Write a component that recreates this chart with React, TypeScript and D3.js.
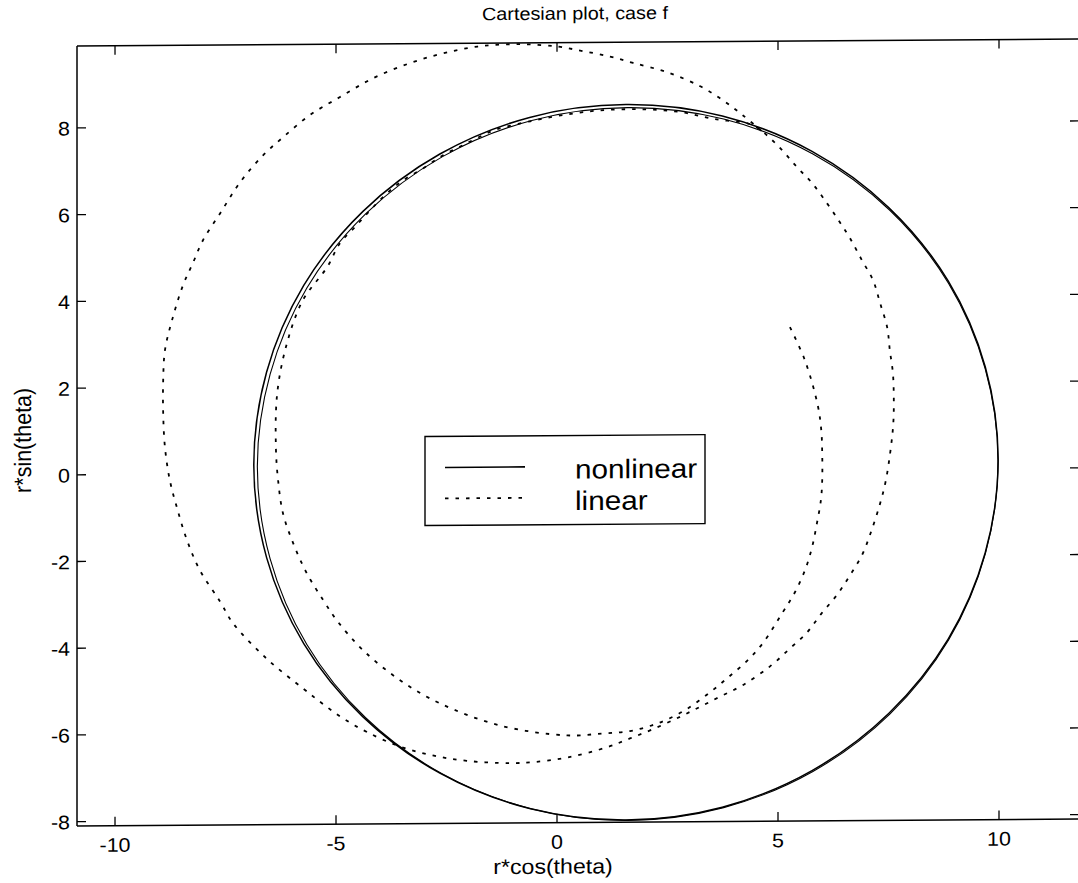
import React from 'react';
import * as d3 from 'd3';

const W = 1078;
const H = 883;

const titleText = 'Cartesian plot, case f';
const xLabel = 'r*cos(theta)';
const yLabel = 'r*sin(theta)';

const xTicks = [-10, -5, 0, 5, 10];
const yTicks = [-8, -6, -4, -2, 0, 2, 4, 6, 8];
const xLimits: [number, number] = [-10.86, 11.81];
const yLimits: [number, number] = [-8.1, 9.89];

// Nonlinear orbit, first revolution (r*cos, r*sin), counter-clockwise from the right end
const nonlinearPass1: [number, number][] = [
  [9.98, 0.2], [9.69, 2.34], [8.85, 4.33], [7.51, 6.03], [5.77, 7.34], [3.74, 8.17],
  [1.56, 8.45], [-0.62, 8.17], [-2.65, 7.34], [-4.39, 6.03], [-5.73, 4.33], [-6.57, 2.34],
  [-6.86, 0.2], [-6.57, -1.94], [-5.73, -3.93], [-4.39, -5.63], [-2.65, -6.94], [-0.62, -7.77],
  [1.56, -8.05], [3.74, -7.77], [5.77, -6.94], [7.51, -5.63], [8.85, -3.93], [9.69, -1.94],
];

// Nonlinear orbit, second revolution (slightly precessed)
const nonlinearPass2: [number, number][] = [
  [9.98, 0.16], [9.69, 2.29], [8.86, 4.27], [7.53, 5.97], [5.79, 7.28], [3.77, 8.1],
  [1.6, 8.38], [-0.57, 8.1], [-2.59, 7.28], [-4.33, 5.97], [-5.66, 4.27], [-6.49, 2.29],
  [-6.78, 0.16], [-6.49, -1.97], [-5.66, -3.95], [-4.33, -5.65], [-2.59, -6.96], [-0.57, -7.78],
  [1.6, -8.06], [3.77, -7.78], [5.79, -6.96], [7.53, -5.65], [8.86, -3.95], [9.69, -1.97],
];

// Linearised solution: inner turn, then the wider outer turn
const linearPath: [number, number][] = [
  [5.27, 3.29], [5.61, 2.52], [5.9, 1.48], [5.98, 0.9], [6.0, 0.37], [6.0, -0.25],
  [5.97, -0.71], [5.88, -1.24], [5.77, -1.79], [5.61, -2.32], [5.38, -2.83], [5.11, -3.28],
  [4.66, -3.99], [4.3, -4.4], [3.87, -4.78], [3.46, -5.12], [2.94, -5.5], [2.49, -5.74],
  [2.15, -5.87], [1.65, -6.0], [1.04, -6.05], [0.23, -6.09], [-1.29, -5.85], [-2.65, -5.33],
  [-3.55, -4.79], [-4.39, -4.09], [-4.98, -3.4], [-5.29, -2.93], [-5.66, -2.31], [-5.97, -1.61],
  [-6.2, -0.92], [-6.31, -0.16], [-6.36, 0.6], [-6.33, 1.85], [-6.11, 3.0], [-5.75, 3.99],
  [-5.2, 4.75], [-4.91, 5.3], [-4.57, 5.67], [-4.23, 6.05], [-3.85, 6.44], [-3.48, 6.74],
  [-3.03, 7.01], [-2.58, 7.31], [-2.13, 7.54], [-1.67, 7.77], [-1.36, 7.9], [-0.61, 8.08],
  [0.14, 8.22], [0.97, 8.32], [1.88, 8.34], [2.78, 8.27], [3.57, 8.1], [4.37, 7.98],
  [4.63, 7.82], [5.05, 7.42], [5.43, 6.98], [5.77, 6.61], [6.11, 6.14], [6.4, 5.7],
  [6.63, 5.33], [6.9, 4.82], [7.15, 4.36], [7.31, 3.83], [7.47, 3.27], [7.53, 2.74],
  [7.6, 2.21], [7.62, 1.59], [7.61, 1.08], [7.56, 0.55], [7.44, -0.26], [7.31, -0.79],
  [7.1, -1.46], [6.9, -1.98], [6.63, -2.44], [6.33, -2.9], [5.99, -3.31], [5.66, -3.75],
  [5.27, -4.12], [4.82, -4.53], [4.2, -4.96], [3.69, -5.22], [3.24, -5.45], [2.78, -5.68],
  [2.17, -5.96], [1.65, -6.17], [1.13, -6.37], [0.23, -6.6], [-0.54, -6.7], [-1.06, -6.72],
  [-2.04, -6.66], [-2.81, -6.53], [-3.55, -6.32], [-4.3, -5.98], [-4.84, -5.66], [-5.29, -5.33],
  [-5.75, -4.96], [-6.56, -4.28], [-7.33, -3.45], [-7.62, -2.95], [-8.08, -2.22], [-8.37, -1.53],
  [-8.6, -0.77], [-8.76, -0.14], [-8.87, 0.62], [-8.91, 1.4], [-8.91, 2.17], [-8.87, 2.86],
  [-8.71, 3.55], [-8.46, 4.36], [-8.24, 4.86], [-8.01, 5.39], [-7.62, 6.01], [-7.17, 6.72],
  [-6.65, 7.34], [-6.2, 7.75], [-5.59, 8.26], [-4.91, 8.67], [-4.16, 9.1], [-3.33, 9.44],
  [-2.58, 9.66], [-1.74, 9.82], [-0.84, 9.86], [0.0, 9.8], [0.59, 9.69], [1.2, 9.56],
  [1.72, 9.41], [2.49, 9.19], [3.24, 8.86], [3.76, 8.53], [4.21, 8.18], [4.63, 7.82],
];

const legendLabels = ['nonlinear', 'linear'];
const dotted = '3.5 7';
const font = '"Liberation Sans", Arial, Helvetica, sans-serif';

// Horizontal text, slightly widened like the printed Helvetica
function Label(props: { x: number; y: number; size: number; anchor?: string; children: React.ReactNode }) {
  const { x, y, size, anchor = 'start', children } = props;
  return (
    <text
      transform={`translate(${x},${y}) scale(1.1,1)`}
      fontFamily={font}
      fontSize={size}
      textAnchor={anchor}
      fill="#000"
    >
      {children}
    </text>
  );
}

export default function App() {
  const left = 77;
  const right = 1079;
  const top = 46;
  const bottom = 826;

  const x = d3.scaleLinear().domain(xLimits).range([left, right]);
  const y = d3.scaleLinear().domain(yLimits).range([bottom, top]);

  const loop = d3
    .line<[number, number]>()
    .x((d) => x(d[0]))
    .y((d) => y(d[1]))
    .curve(d3.curveCatmullRomClosed.alpha(0.5));

  const line = d3
    .line<[number, number]>()
    .x((d) => x(d[0]))
    .y((d) => y(d[1]))
    .curve(d3.curveCatmullRom.alpha(0.5));

  const tickLen = 9;

  return (
    <svg
      width={W}
      height={H}
      viewBox={`0 0 ${W} ${H}`}
      style={{ position: 'absolute', left: 0, top: 0, background: '#fff' }}
    >
      <rect x={0} y={0} width={W} height={H} fill="#fff" />
      <defs>
        <clipPath id="plot-area">
          <rect x={left} y={top - 1} width={right - left} height={bottom - top + 2} />
        </clipPath>
      </defs>
      <g transform="matrix(1,-0.007,0,1,0,0.54)">
        {/* title */}
        <Label x={575} y={23} size={18} anchor="middle">
          {titleText}
        </Label>

        {/* curves */}
        <g clipPath="url(#plot-area)" fill="none">
          <path d={loop(nonlinearPass1) ?? ''} stroke="#000" strokeWidth={1.5} />
          <path d={loop(nonlinearPass2) ?? ''} stroke="#000" strokeWidth={1.1} />
          <path d={line(linearPath) ?? ''} stroke="#000" strokeWidth={1.8} strokeDasharray={dotted} />
        </g>

        {/* axes box */}
        <g stroke="#000" strokeWidth={1.5} fill="none">
          <line x1={left} x2={right} y1={top} y2={top} />
          <line x1={left} x2={right} y1={bottom} y2={bottom} />
          <line x1={left} x2={left} y1={top} y2={bottom} />
          <line x1={right} x2={right} y1={top} y2={bottom} />
        </g>

        {/* x ticks */}
        {xTicks.map((t) => (
          <g key={`xt${t}`}>
            <line x1={x(t)} x2={x(t)} y1={bottom} y2={bottom - tickLen} stroke="#000" strokeWidth={1.3} />
            <line x1={x(t)} x2={x(t)} y1={top} y2={top + tickLen} stroke="#000" strokeWidth={1.3} />
            <Label x={x(t)} y={852} size={19.5} anchor="middle">
              {t}
            </Label>
          </g>
        ))}

        {/* y ticks */}
        {yTicks.map((t) => (
          <g key={`yt${t}`}>
            <line x1={left} x2={left + tickLen} y1={y(t)} y2={y(t)} stroke="#000" strokeWidth={1.3} />
            <line x1={right} x2={right - tickLen} y1={y(t)} y2={y(t)} stroke="#000" strokeWidth={1.3} />
            <Label x={70} y={y(t) + 7.5} size={19.5} anchor="end">
              {t}
            </Label>
          </g>
        ))}

        {/* axis labels */}
        <Label x={553} y={877} size={21} anchor="middle">
          {xLabel}
        </Label>
        <text
          transform="translate(31,440) rotate(-90) scale(1,1.1)"
          fontFamily={font}
          fontSize={21.5}
          textAnchor="middle"
          fill="#000"
        >
          {yLabel}
        </text>

        {/* legend */}
        <g>
          <rect x={425} y={439} width={280} height={89} fill="#fff" stroke="#000" strokeWidth={1.4} />
          {legendLabels.map((lab, i) => (
            <g key={lab}>
              <line
                x1={445}
                x2={525}
                y1={470 + i * 31}
                y2={470 + i * 31}
                stroke="#000"
                strokeWidth={i === 0 ? 1.6 : 1.8}
                strokeDasharray={i === 0 ? undefined : dotted}
              />
              <Label x={575} y={482 + i * 31.5} size={27}>
                {lab}
              </Label>
            </g>
          ))}
        </g>
      </g>
    </svg>
  );
}
